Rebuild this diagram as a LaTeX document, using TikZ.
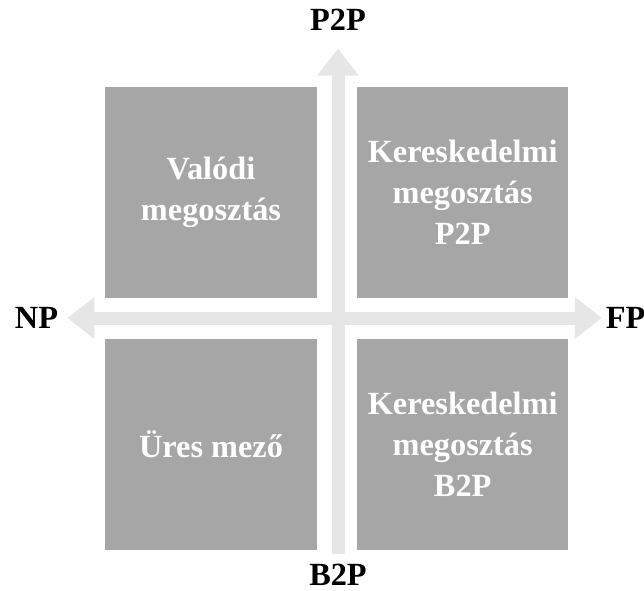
\documentclass[tikz,border=0pt]{standalone}
\usepackage{fontspec}
\setmainfont{Liberation Serif}
\usepackage{tikz}
\usetikzlibrary{arrows.meta, positioning}

\definecolor{quadgray}{HTML}{A6A6A6}
\definecolor{axisgray}{HTML}{E6E6E6}

\begin{document}
\begin{tikzpicture}[font=\fontsize{18.4}{23.3}\selectfont\bfseries, node distance=0.8cm,
  quad/.style={fill=quadgray, text=white, minimum width=4.22cm, minimum height=4.22cm, align=center, inner sep=0pt},
  axislabel/.style={inner sep=1mm},
  axis/.style={draw=axisgray, line width=0.26cm, -{Triangle[width=0.8cm, length=0.54cm]}}]
\useasboundingbox (-6.73,6.36) rectangle (6.15,-5.44);
% axis labels
\node[axislabel] (p2p) at (0.03,5.96) {P2P};
\node[axislabel] (b2p) at (0.03,-5.14) {B2P};
\node[axislabel] (np) at (-6.0,0) {NP};
\node[axislabel] (fp) at (5.78,0) {FP};
% axes
\draw[axis, shorten <=0.1cm, shorten >=0.25cm] (b2p) -- (p2p);
\draw[axis, {Triangle[width=0.8cm, length=0.54cm]}-{Triangle[width=0.8cm, length=0.54cm]}, shorten <=0.08cm, shorten >=-0.03cm] (np) -- (fp);
% quadrants
\node[quad] (real) at (-2.51,2.51) {Valódi\\megosztás};
\node[quad, right=of real] (commp2p) {Kereskedelmi\\megosztás\\P2P};
\node[quad, below=of real] (empty) {Üres mező};
\node[quad, below=of commp2p] (commb2p) {Kereskedelmi\\megosztás\\B2P};
\end{tikzpicture}
\end{document}
